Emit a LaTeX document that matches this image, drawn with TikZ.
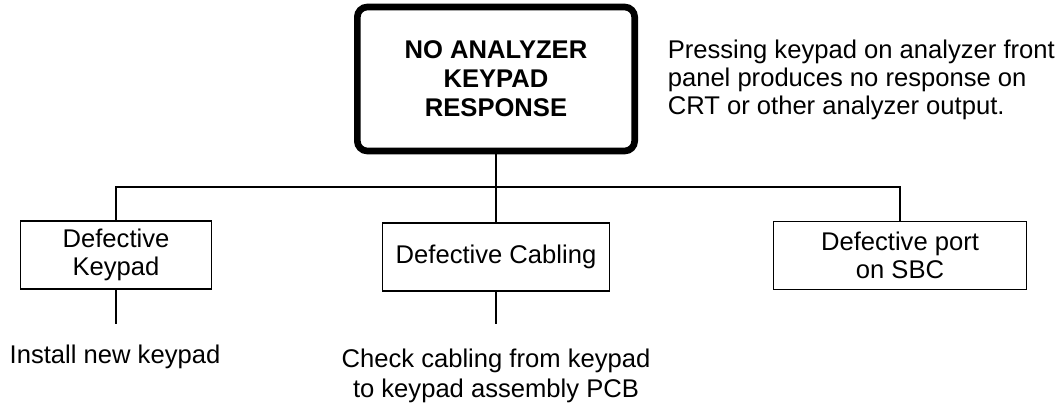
\documentclass[tikz,border=0pt]{standalone}
\usepackage{fontspec}
\setmainfont{Liberation Sans}

\begin{document}
\begin{tikzpicture}[x=0.75pt,y=-0.75pt,line width=1.2pt,
  title node/.style={draw,line width=5pt,rounded corners=7.5pt,minimum width=208pt,minimum height=108pt,align=center,font=\bfseries\fontsize{19.2}{21.8}\selectfont},
  fault node/.style={draw,minimum height=51pt,align=center,font=\fontsize{19.2}{21}\selectfont},
  note node/.style={align=center,inner sep=0pt,font=\fontsize{19.2}{22.5}\selectfont}]

    \useasboundingbox (0,0) rectangle (1064,408);

    \node[title node] (top) at (496,79) {NO ANALYZER\\KEYPAD\\RESPONSE};
    \node[note node, align=left, anchor=west, font=\fontsize{19.2}{21}\selectfont] (symptom) at (667,80)
        {Pressing keypad on analyzer front\\panel produces no response on\\CRT or other analyzer output.};

    \node[fault node, minimum width=143pt] (keypad) at (116,255) {Defective\\Keypad};
    \node[fault node, minimum width=170pt] (cabling) at (496,257) {Defective Cabling};
    \node[fault node, minimum width=190pt] (port) at (900,255.5) {Defective port\\on SBC};

    \coordinate (bus) at (496,187);
    \coordinate (keypadend) at (116,324);
    \coordinate (cablingend) at (496,324);

    \node[note node] (replace) at (115,357) {Install new keypad};
    \node[note node] (check) at (496,376) {Check cabling from keypad\\to keypad assembly PCB};

    \draw (top.south) -- (bus);
    \draw (keypad.north) |- (bus) -| (port.north);
    \draw (bus) -- (cabling.north);
    \draw (keypad.south) -- (keypadend);
    \draw (cabling.south) -- (cablingend);

\end{tikzpicture}
\end{document}
